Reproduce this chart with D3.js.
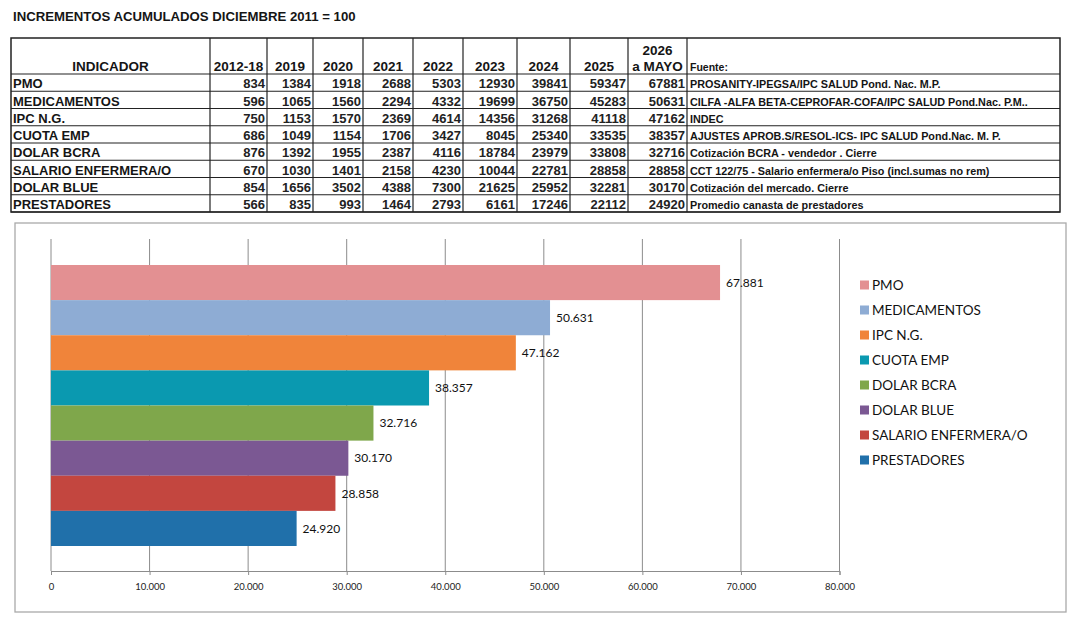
<!DOCTYPE html>
<html>
<head>
<meta charset="utf-8">
<script src="https://cdn.jsdelivr.net/npm/d3@7"></script>
<style>
  body { margin: 0; background: #fff; }
  svg { display: block; }
</style>
</head>
<body>
<div id="chart"></div>
<script>
// data
const indicators = ["PMO", "MEDICAMENTOS", "IPC N.G.", "CUOTA EMP", "DOLAR BCRA", "SALARIO ENFERMERA/O", "DOLAR BLUE", "PRESTADORES"];
const periods = ["2012-18", "2019", "2020", "2021", "2022", "2023", "2024", "2025", "2026|a MAYO"];
const rowPMO = [834, 1384, 1918, 2688, 5303, 12930, 39841, 59347, 67881];
const rowMedicamentos = [596, 1065, 1560, 2294, 4332, 19699, 36750, 45283, 50631];
const rowIPC = [750, 1153, 1570, 2369, 4614, 14356, 31268, 41118, 47162];
const rowCuota = [686, 1049, 1154, 1706, 3427, 8045, 25340, 33535, 38357];
const rowBCRA = [876, 1392, 1955, 2387, 4116, 18784, 23979, 33808, 32716];
const rowSalario = [670, 1030, 1401, 2158, 4230, 10044, 22781, 28858, 28858];
const rowBlue = [854, 1656, 3502, 4388, 7300, 21625, 25952, 32281, 30170];
const rowPrestadores = [566, 835, 993, 1464, 2793, 6161, 17246, 22112, 24920];
const sources = [
  "PROSANITY-IPEGSA/IPC SALUD Pond. Nac. M.P.",
  "CILFA -ALFA BETA-CEPROFAR-COFA/IPC SALUD Pond.Nac. P.M..",
  "INDEC",
  "AJUSTES APROB.S/RESOL-ICS- IPC SALUD Pond.Nac. M. P.",
  "Cotización BCRA - vendedor . Cierre",
  "CCT 122/75 - Salario enfermera/o Piso (incl.sumas no rem)",
  "Cotización del mercado. Cierre",
  "Promedio canasta de prestadores"
];

const chartCategories = ["PMO", "MEDICAMENTOS", "IPC N.G.", "CUOTA EMP", "DOLAR BCRA", "DOLAR BLUE", "SALARIO ENFERMERA/O", "PRESTADORES"];
const chartValues = [67881, 50631, 47162, 38357, 32716, 30170, 28858, 24920];
const chartColors = ["#e39092", "#8eacd4", "#f0843a", "#0a99b0", "#7fa74b", "#7b5893", "#c3463f", "#2070aa"];
const xTicks = [0, 10000, 20000, 30000, 40000, 50000, 60000, 70000, 80000];

const tableRows = [rowPMO, rowMedicamentos, rowIPC, rowCuota, rowBCRA, rowSalario, rowBlue, rowPrestadores];

const width = 1082;
const height = 628;

const svg = d3.select("#chart")
  .append("svg")
  .attr("width", width)
  .attr("height", height);

const sans = "'Liberation Sans', Arial, sans-serif";
const calib = "Lato, 'Open Sans', sans-serif";
const ink = "#151515";

// title
svg.append("text")
  .attr("x", 13)
  .attr("y", 21)
  .attr("font-family", sans)
  .attr("font-weight", "bold")
  .attr("font-size", 13.2)
  .attr("fill", ink)
  .text("INCREMENTOS ACUMULADOS DICIEMBRE 2011 = 100");

// ---- table ----
const colEdges = [11, 210, 267, 313, 363, 413, 463, 517, 570, 628, 687, 1060];
const tableTop = 38;
const headerBottom = 74;
const tableBottom = 212;

const rowScale = d3.scaleBand()
  .domain(indicators)
  .range([headerBottom, tableBottom]);

const table = svg.append("g").attr("class", "table");

// cell borders
table.selectAll(".hline")
  .data([headerBottom, ...indicators.map(d => rowScale(d) + rowScale.bandwidth())])
  .join("line")
  .attr("x1", colEdges[0])
  .attr("x2", colEdges[colEdges.length - 1])
  .attr("y1", d => d)
  .attr("y2", d => d)
  .attr("stroke", "#222")
  .attr("stroke-width", 1.2);

table.selectAll(".vline")
  .data(colEdges.slice(1, -1))
  .join("line")
  .attr("x1", d => d)
  .attr("x2", d => d)
  .attr("y1", tableTop)
  .attr("y2", tableBottom)
  .attr("stroke", "#222")
  .attr("stroke-width", 1.2);

table.append("rect")
  .attr("x", colEdges[0])
  .attr("y", tableTop)
  .attr("width", colEdges[colEdges.length - 1] - colEdges[0])
  .attr("height", tableBottom - tableTop)
  .attr("fill", "none")
  .attr("stroke", "#222")
  .attr("stroke-width", 1.5);

// header
table.append("text")
  .attr("x", (colEdges[0] + colEdges[1]) / 2)
  .attr("y", 71)
  .attr("text-anchor", "middle")
  .attr("font-family", sans)
  .attr("font-weight", "bold")
  .attr("font-size", 13.5)
  .attr("fill", ink)
  .text("INDICADOR");

periods.forEach((p, i) => {
  const cx = (colEdges[i + 1] + colEdges[i + 2]) / 2;
  const lines = p.split("|");
  lines.forEach((ln, j) => {
    table.append("text")
      .attr("x", cx)
      .attr("y", 71 - (lines.length - 1 - j) * 16)
      .attr("text-anchor", "middle")
      .attr("font-family", sans)
      .attr("font-weight", "bold")
      .attr("font-size", 13.5)
      .attr("fill", ink)
      .text(ln);
  });
});

table.append("text")
  .attr("x", colEdges[10] + 3)
  .attr("y", 71)
  .attr("font-family", sans)
  .attr("font-weight", "bold")
  .attr("font-size", 10.5)
  .attr("fill", ink)
  .text("Fuente:");

// rows
indicators.forEach((name, r) => {
  const base = rowScale(name) + rowScale.bandwidth() - 3;
  table.append("text")
    .attr("x", colEdges[0] + 2)
    .attr("y", base)
    .attr("font-family", sans)
    .attr("font-weight", "bold")
    .attr("font-size", 13)
    .attr("fill", ink)
    .text(name);

  tableRows[r].forEach((v, i) => {
    table.append("text")
      .attr("x", colEdges[i + 2] - 2)
      .attr("y", base)
      .attr("text-anchor", "end")
      .attr("font-family", sans)
      .attr("font-weight", "bold")
      .attr("font-size", 13)
      .attr("fill", "#222")
      .text(v);
  });

  table.append("text")
    .attr("x", colEdges[10] + 3)
    .attr("y", base)
    .attr("font-family", sans)
    .attr("font-weight", "bold")
    .attr("font-size", 10.8)
    .attr("fill", ink)
    .text(sources[r]);
});

// ---- bar chart ----
svg.append("rect")
  .attr("x", 15)
  .attr("y", 223)
  .attr("width", 1051)
  .attr("height", 389)
  .attr("fill", "#fff")
  .attr("stroke", "#aaa")
  .attr("stroke-width", 1.3);

const plotTop = 239;
const plotBottom = 571;

const xScale = d3.scaleLinear().domain([0, 80000]).range([51, 839.5]);
const yScale = d3.scaleBand()
  .domain(chartCategories)
  .range([265, 546]);

const g = svg.append("g");

// gridlines
g.selectAll(".grid")
  .data(xTicks)
  .join("line")
  .attr("class", "grid")
  .attr("x1", d => xScale(d))
  .attr("x2", d => xScale(d))
  .attr("y1", plotTop)
  .attr("y2", plotBottom)
  .attr("stroke", "#8c8c8c")
  .attr("stroke-width", 1);

// x axis
const xAxis = d3.axisBottom(xScale)
  .tickValues(xTicks)
  .tickSize(4)
  .tickPadding(8)
  .tickFormat(d => d3.format(",")(d).replace(/,/g, "."));

const xAxisG = g.append("g")
  .attr("transform", `translate(0,${plotBottom})`)
  .call(xAxis);

xAxisG.select(".domain").attr("stroke", "#8c8c8c");
xAxisG.selectAll(".tick line").attr("stroke", "#8c8c8c");
xAxisG.selectAll(".tick text")
  .attr("font-family", calib)
  .attr("font-size", 9.5)
  .attr("fill", "#222");

// bars
g.selectAll(".bar")
  .data(chartCategories)
  .join("rect")
  .attr("class", "bar")
  .attr("x", xScale(0))
  .attr("y", d => yScale(d))
  .attr("width", (d, i) => xScale(chartValues[i]) - xScale(0))
  .attr("height", yScale.bandwidth())
  .attr("fill", (d, i) => chartColors[i]);

// value labels
g.selectAll(".val")
  .data(chartCategories)
  .join("text")
  .attr("class", "val")
  .attr("x", (d, i) => xScale(chartValues[i]) + 6)
  .attr("y", d => yScale(d) + yScale.bandwidth() / 2)
  .attr("dy", "0.35em")
  .attr("font-family", calib)
  .attr("font-size", 12)
  .attr("fill", "#111")
  .text((d, i) => d3.format(",")(chartValues[i]).replace(/,/g, "."));

// legend
const legend = svg.append("g");
const legendY = d3.scalePoint()
  .domain(chartCategories)
  .range([285, 460]);

legend.selectAll("rect")
  .data(chartCategories)
  .join("rect")
  .attr("x", 860)
  .attr("y", d => legendY(d) - 4.5)
  .attr("width", 9)
  .attr("height", 9)
  .attr("fill", (d, i) => chartColors[i]);

legend.selectAll("text")
  .data(chartCategories)
  .join("text")
  .attr("x", 872)
  .attr("y", d => legendY(d))
  .attr("dy", "0.35em")
  .attr("font-family", calib)
  .attr("font-size", 13.5)
  .attr("fill", "#111")
  .text(d => d);
</script>
</body>
</html>
